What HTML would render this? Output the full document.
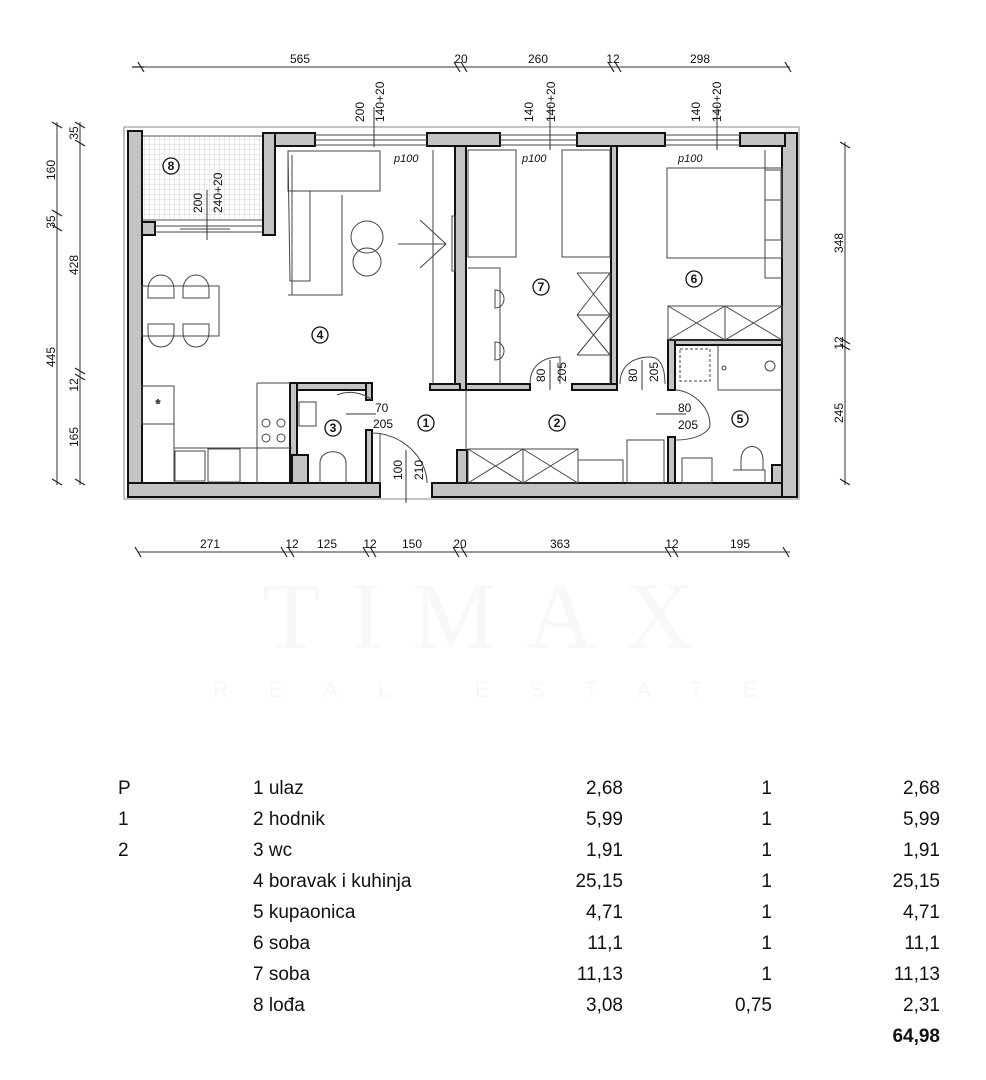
<!DOCTYPE html>
<html><head><meta charset="utf-8"><style>
html,body{margin:0;padding:0;background:#fff;width:986px;height:1080px;overflow:hidden}
svg{display:block}
.t{font-family:"Liberation Sans",sans-serif;font-size:12px;fill:#111}
.tb{font-family:"Liberation Sans",sans-serif;font-size:19px;fill:#111}
</style></head><body>
<svg width="986" height="1080" viewBox="0 0 986 1080" xmlns="http://www.w3.org/2000/svg">
<defs>
<pattern id="grid" width="5" height="5" patternUnits="userSpaceOnUse"><path d="M5 0V5H0" fill="none" stroke="#bbb" stroke-width="0.6"/></pattern>
</defs>
<!-- watermark -->
<text x="493" y="648" text-anchor="middle" font-family="Liberation Serif,serif" font-size="95" fill="#f8f8f8" letter-spacing="30">TIMAX</text>
<text x="505" y="697" text-anchor="middle" font-family="Liberation Sans,sans-serif" font-size="22" fill="#f7f7f7" letter-spacing="40">REAL ESTATE</text>

<!-- dimension lines -->
<g stroke="#333" stroke-width="1" fill="none">
<line x1="138" y1="67" x2="790" y2="67"/>
<line x1="138" y1="552" x2="790" y2="552"/>
<line x1="57" y1="122" x2="57" y2="485"/>
<line x1="80" y1="122" x2="80" y2="485"/>
<line x1="845" y1="142" x2="845" y2="485"/>
</g>
<g stroke="#222" stroke-width="1.2">
<path d="M138 62l6 10M132 67h12M454 62l6 10M461 62l6 10M608 62l6 10M615 62l6 10M785 62l6 10"/>
<path d="M135 547l6 10M281 547l6 10M288 547l6 10M363 547l6 10M370 547l6 10M453 547l6 10M461 547l6 10M665 547l6 10M672 547l6 10M783 547l6 10"/>
<path d="M52 122l10 6M52 210l10 6M52 225l10 6M52 479l10 6"/>
<path d="M75 122l10 6M75 140l10 6M75 368l10 6M75 374l10 6M75 479l10 6"/>
<path d="M840 142l10 6M840 338l10 6M840 344l10 6M840 479l10 6"/>
</g>
<g class="t" text-anchor="middle">
<text x="300" y="63">565</text><text x="461" y="63">20</text><text x="538" y="63">260</text><text x="613" y="63">12</text><text x="700" y="63">298</text>
<text x="210" y="548">271</text><text x="292" y="548">12</text><text x="327" y="548">125</text><text x="370" y="548">12</text><text x="412" y="548">150</text><text x="460" y="548">20</text><text x="560" y="548">363</text><text x="672" y="548">12</text><text x="740" y="548">195</text>
<text transform="translate(55,170) rotate(-90)">160</text>
<text transform="translate(55,222) rotate(-90)">35</text>
<text transform="translate(55,357) rotate(-90)">445</text>
<text transform="translate(78,133) rotate(-90)">35</text>
<text transform="translate(78,265) rotate(-90)">428</text>
<text transform="translate(78,385) rotate(-90)">12</text>
<text transform="translate(78,437) rotate(-90)">165</text>
<text transform="translate(843,243) rotate(-90)">348</text>
<text transform="translate(843,343) rotate(-90)">12</text>
<text transform="translate(843,413) rotate(-90)">245</text>
</g>

<!-- outer thin outline -->
<rect x="124" y="127" width="675" height="372" fill="none" stroke="#888" stroke-width="1"/>
<!-- balcony -->
<rect x="142" y="136" width="121" height="84" fill="url(#grid)" stroke="#555" stroke-width="1"/>
<!-- walls -->
<g fill="#c4c4c4" stroke="#111" stroke-width="2">
<rect x="128" y="131" width="14" height="366"/>
<rect x="128" y="483" width="252" height="14"/>
<rect x="432" y="483" width="365" height="14"/>
<rect x="782" y="133" width="15" height="364"/>
<rect x="263" y="133" width="52" height="13"/>
<rect x="263" y="133" width="12" height="102"/>
<rect x="142" y="222" width="13" height="13"/>
<rect x="427" y="133" width="73" height="13"/>
<rect x="577" y="133" width="88" height="13"/>
<rect x="740" y="133" width="45" height="13"/>
<rect x="455" y="146" width="11" height="244"/>
<rect x="430" y="384" width="30" height="6"/>
<rect x="457" y="450" width="10" height="33"/>
<rect x="611" y="146" width="6" height="244"/>
<rect x="466" y="384" width="64" height="6"/>
<rect x="572" y="384" width="45" height="6"/>
<rect x="668" y="340" width="114" height="5"/>
<rect x="668" y="340" width="7" height="50"/>
<rect x="668" y="437" width="7" height="46"/>
<rect x="290" y="383" width="82" height="7"/>
<rect x="290" y="383" width="7" height="100"/>
<rect x="366" y="383" width="6" height="17"/>
<rect x="366" y="430" width="6" height="53"/>
<rect x="292" y="455" width="16" height="28"/>
<rect x="772" y="465" width="10" height="18"/>
</g>
<!-- windows -->
<g stroke="#444" stroke-width="1" fill="none">
<path d="M315 135h112M315 140h112M315 145h112M500 135h77M500 140h77M500 145h77M665 135h75M665 140h75M665 145h75"/>
<path d="M155 226h108M155 232h108M180 229h50"/>
</g>
<!-- furniture -->
<g stroke="#444" stroke-width="1" fill="none">
<path d="M288 151h92v40h-70v90h-20zM292 155v140h50v-100M342 195v100h-54"/>
<rect x="288" y="151" width="92" height="40"/>
<circle cx="367" cy="237" r="16"/><circle cx="367" cy="262" r="14"/>
<path d="M398 244h48M420 220l26 24-26 24"/><rect x="452" y="216" width="3" height="55"/>
<path d="M433 150v234"/>
<rect x="142" y="286" width="77" height="50"/>
<path d="M148 290c0-20 26-20 26 0v8h-26zM183 290c0-20 26-20 26 0v8h-26zM148 332c0 20 26 20 26 0v-8h-26zM183 332c0 20 26 20 26 0v-8h-26z"/>
<rect x="142" y="386" width="32" height="38"/><text x="158" y="408" class="t" text-anchor="middle">*</text>
<path d="M174 424v59M174 448h118M257 383v100M257 383h33"/>
<circle cx="266" cy="423" r="4"/><circle cx="281" cy="423" r="4"/><circle cx="266" cy="438" r="4"/><circle cx="281" cy="438" r="4"/>
<rect x="175" y="451" width="30" height="30"/><rect x="208" y="449" width="32" height="33"/>
<rect x="299" y="402" width="17" height="24"/>
<path d="M320 483v-20c0-15 26-15 26 0v20"/>
<path d="M372 400a35 35 0 0 0 -35 -5M372 433c30 0 55 25 55 50M380 433v50"/>
<rect x="468" y="150" width="48" height="107"/><rect x="562" y="150" width="48" height="107"/>
<path d="M468 268h32v116M577 273h33v111M577 273l33 42M610 273l-33 42M577 315l33 40 M610 315l-33 40M577 315h33M577 355h33"/>
<path d="M495 290c12 0 12 18 0 18zM495 342c12 0 12 18 0 18zM530 384c0-20 15-27 30-27v27M620 384c0-20 15-27 30-27c10 0 15 10 15 27"/>
<rect x="667" y="168" width="115" height="90"/>
<path d="M765 150v128h17M765 170h16v30h-16M765 200h16v40h-16"/>
<rect x="668" y="306" width="114" height="34"/><path d="M668 306l57 34M725 306l-57 34M725 306v34M725 306l57 34M782 306l-57 34"/>
<rect x="680" y="349" width="30" height="32" stroke-dasharray="3 2"/>
<path d="M718 345v45h64"/><circle cx="770" cy="366" r="5"/><circle cx="724" cy="368" r="2"/>
<path d="M675 390c15 0 35 15 35 35c0 5-10 15-35 15"/>
<rect x="682" y="458" width="30" height="25"/><path d="M741 470v-10c0-18 22-18 22 0v10zM733 470h32v13"/>
<rect x="468" y="449" width="110" height="34"/><path d="M468 449l55 34M523 449l-55 34M523 449v34M523 449l55 34M578 449l-55 34"/>
<path d="M578 460h45v23"/><rect x="627" y="440" width="37" height="43"/>
<path d="M466 390v60"/>
</g>
<g class="t">
<text x="394" y="162" font-style="italic" font-size="11">p100</text>
<text x="522" y="162" font-style="italic" font-size="11">p100</text>
<text x="678" y="162" font-style="italic" font-size="11">p100</text>
<text transform="translate(364,122) rotate(-90)">200</text>
<text transform="translate(384,122) rotate(-90)">140+20</text>
<text transform="translate(533,122) rotate(-90)">140</text>
<text transform="translate(555,122) rotate(-90)">140+20</text>
<text transform="translate(700,122) rotate(-90)">140</text>
<text transform="translate(721,122) rotate(-90)">140+20</text>
<text transform="translate(202,213) rotate(-90)">200</text>
<text transform="translate(222,213) rotate(-90)">240+20</text>
<text transform="translate(545,382) rotate(-90)">80</text>
<text transform="translate(566,382) rotate(-90)">205</text>
<text transform="translate(637,382) rotate(-90)">80</text>
<text transform="translate(658,382) rotate(-90)">205</text>
<text transform="translate(402,480) rotate(-90)">100</text>
<text transform="translate(423,480) rotate(-90)">210</text>
<text x="375" y="412">70</text><text x="373" y="428">205</text>
<text x="678" y="412">80</text><text x="678" y="429">205</text>
</g>
<g stroke="#333" stroke-width="1">
<path d="M374 147v-40M550 150v-45M717 150v-45M207 240v-50M550 360v30M642 360v30M406 450v53M656 414h30M346 414h30"/>
</g>
<g fill="#fff" stroke="#111" stroke-width="1.3">
<circle cx="171" cy="166" r="8"/><circle cx="320" cy="335" r="8"/><circle cx="426" cy="423" r="8"/><circle cx="333" cy="428" r="8"/>
<circle cx="557" cy="423" r="8"/><circle cx="740" cy="419" r="8"/><circle cx="694" cy="279" r="8"/><circle cx="541" cy="287" r="8"/>
</g>
<g class="t" text-anchor="middle" font-weight="bold" font-size="11">
<text x="171" y="170">8</text><text x="320" y="339">4</text><text x="426" y="427">1</text><text x="333" y="432">3</text>
<text x="557" y="427">2</text><text x="740" y="423">5</text><text x="694" y="283">6</text><text x="541" y="291">7</text>
</g>

<!-- table -->
<g class="tb">
<text x="118" y="794">P</text><text x="118" y="825">1</text><text x="118" y="856">2</text>
<text x="253" y="794">1 ulaz</text><text x="253" y="825">2 hodnik</text><text x="253" y="856">3 wc</text><text x="253" y="887">4 boravak i kuhinja</text>
<text x="253" y="918">5 kupaonica</text><text x="253" y="949">6 soba</text><text x="253" y="980">7 soba</text><text x="253" y="1011">8 lođa</text>
</g>
<g class="tb" text-anchor="end">
<text x="623" y="794">2,68</text><text x="623" y="825">5,99</text><text x="623" y="856">1,91</text><text x="623" y="887">25,15</text><text x="623" y="918">4,71</text><text x="623" y="949">11,1</text><text x="623" y="980">11,13</text><text x="623" y="1011">3,08</text>
<text x="772" y="794">1</text><text x="772" y="825">1</text><text x="772" y="856">1</text><text x="772" y="887">1</text><text x="772" y="918">1</text><text x="772" y="949">1</text><text x="772" y="980">1</text><text x="772" y="1011">0,75</text>
<text x="940" y="794">2,68</text><text x="940" y="825">5,99</text><text x="940" y="856">1,91</text><text x="940" y="887">25,15</text><text x="940" y="918">4,71</text><text x="940" y="949">11,1</text><text x="940" y="980">11,13</text><text x="940" y="1011">2,31</text>
<text x="940" y="1042" font-weight="bold">64,98</text>
</g>
</svg>
</body></html>
